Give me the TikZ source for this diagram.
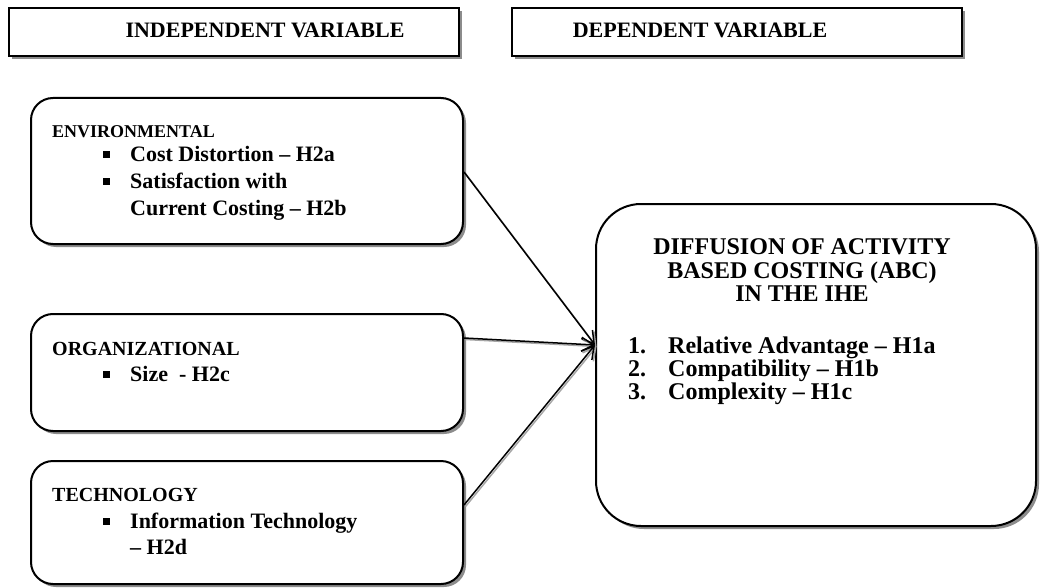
\documentclass[tikz,border=0pt]{standalone}
\usepackage{fontspec}
\setmainfont{Liberation Serif}
\usetikzlibrary{arrows.meta,shadows,positioning}

\begin{document}
\begin{tikzpicture}[
        x=1pt, y=-1pt,
        shade/.style={drop shadow={shadow xshift=3pt, shadow yshift=-3pt, fill=black!45, opacity=1}},
        headbox/.style={draw, line width=2pt, fill=white, shade, anchor=north west, inner sep=0pt, minimum width=450pt, minimum height=48pt},
        varbox/.style={draw, line width=2pt, rounded corners=22pt, fill=white, shade, anchor=north west, inner sep=0pt, minimum width=432pt},
        head/.style={font=\fontsize{22}{24}\selectfont\bfseries, anchor=base west, inner sep=0pt},
        item/.style={font=\fontsize{22}{24}\selectfont\bfseries, anchor=base west, inner sep=0pt},
        big/.style={font=\fontsize{24}{26}\selectfont\bfseries},
        bullet/.style={fill, minimum size=7pt, inner sep=0pt},
        link/.style={line width=1.5pt, -{Straight Barb[length=12pt, width=14pt]},
            preaction={draw=black!35, line width=1.5pt, transform canvas={xshift=1.5pt, yshift=-1.5pt}}}
    ]
    \useasboundingbox (0,0) rectangle (1040,588);

    \node[headbox] (indep) at (8,7) {};
    \node[headbox] (dep) at (511,7) {};
    \node[head, anchor=base] (indepText) at (265,38) {INDEPENDENT VARIABLE};
    \node[head, anchor=base] (depText) at (700,38) {DEPENDENT VARIABLE};

    \node[varbox, minimum height=146pt] (env) at (30,97) {};
    \node[varbox, minimum height=117pt] (org) at (30,313) {};
    \node[varbox, minimum height=123pt] (tech) at (30,460) {};
    \node[draw, line width=2pt, rounded corners=45pt, fill=white, shade, anchor=north west,
        inner sep=0pt, minimum width=440pt, minimum height=322pt] (abc) at (595,203) {};

    \node[head, font=\fontsize{18}{20}\selectfont\bfseries] (envHead) at (52,138) {ENVIRONMENTAL};
    \node[bullet] (envB1) at (106,155) {};
    \node[item] (envI1) at (130,162) {Cost Distortion – H2a};
    \node[bullet] (envB2) at (106,181) {};
    \node[item] (envI2) at (130,188) {Satisfaction with};
    \node[item] (envI3) at (130,215) {Current Costing – H2b};

    \node[head, font=\fontsize{20}{24}\selectfont\bfseries] (orgHead) at (52,355) {ORGANIZATIONAL};
    \node[bullet] (orgB1) at (106,374) {};
    \node[item] (orgI1) at (130,381) {Size\ \ - H2c};

    \node[head, font=\fontsize{20}{24}\selectfont\bfseries] (techHead) at (52,501) {TECHNOLOGY};
    \node[bullet] (techB1) at (106,521) {};
    \node[item] (techI1) at (130,528) {Information Technology};
    \node[item] (techI2) at (130,554) {– H2d};

    \node[item, big, anchor=base] (abcT1) at (802,254) {DIFFUSION OF ACTIVITY};
    \node[item, big, anchor=base] (abcT2) at (802,278) {BASED COSTING (ABC)};
    \node[item, big, anchor=base] (abcT3) at (802,301) {IN THE IHE};
    \node[item, big] (abcN1) at (628,353) {1.};
    \node[item, big] (abcI1) at (668,353) {Relative Advantage – H1a};
    \node[item, big] (abcN2) at (628,376) {2.};
    \node[item, big] (abcI2) at (668,376) {Compatibility – H1b};
    \node[item, big] (abcN3) at (628,399) {3.};
    \node[item, big] (abcI3) at (668,399) {Complexity – H1c};

    \coordinate (target) at (abc.west |- 0,345);
    \draw[link] (env.east |- 0,172) -- (target);
    \draw[link] (org.east |- 0,338) -- (target);
    \draw[link] (tech.east |- 0,505) -- (target);
\end{tikzpicture}
\end{document}
